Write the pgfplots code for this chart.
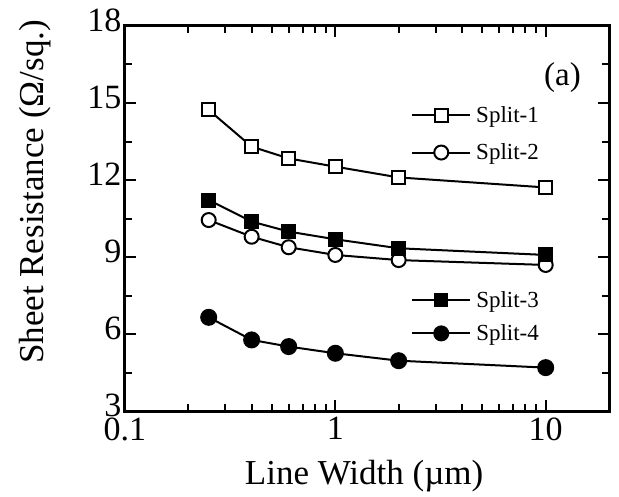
\documentclass[border=0pt]{standalone}
\usepackage{pgfplots}
\pgfplotsset{compat=1.18}
\usepackage{fontspec}
\setmainfont{Liberation Serif}
\pgfplotsset{
  legend image code/.code={\draw[mark repeat=2,mark phase=2,#1] plot coordinates {(0pt,0pt)(29pt,0pt)(58pt,0pt)};},
}
\begin{document}
\begin{tikzpicture}
\begin{axis}[
  scale only axis, width=484pt, height=385pt,
  xmode=log, xmin=0.1, xmax=20, ymin=3, ymax=18,
  legend style={draw=none, fill=none, font=\fontsize{23}{27}\selectfont, legend cell align=left,
      inner sep=0pt, row sep=10pt, nodes={inner sep=5pt}},
  axis line style={line width=3pt},
  every tick/.style={black, line width=2pt},
  tick align=inside,
  major tick length=11pt, minor tick length=7pt,
  xtick={0.1,1,10}, xticklabels={0.1,1,10},
  extra x ticks={0.2,0.3,0.4,0.5,0.6,0.7,0.8,0.9,2,3,4,5,6,7,8,9},
  extra x tick labels={},
  extra x tick style={tick style={black, line width=2pt}, major tick length=7pt, xticklabels={}},
  ytick={3,6,9,12,15,18}, minor y tick num=1,
  /pgf/number format/assume math mode=true,
  tick label style={font=\fontsize{34}{40}\selectfont},
  xticklabel style={yshift=-3pt},
  yticklabel style={yshift=6pt},
  xlabel={Line Width (\textmu m)}, ylabel={Sheet Resistance (Ω/sq.)},
  label style={font=\fontsize{35}{42}\selectfont},
  xlabel style={at={(axis description cs:0.494,-0.17)}, anchor=center},
  ylabel style={at={(axis description cs:-0.186,0.569)}, anchor=center},
  every axis plot/.append style={black, line width=2pt, mark options={solid, line width=2pt}},
  legend style={at={(axis description cs:0.591,0.72)}, anchor=west},
  clip=false,
]
\addplot[mark=square*, mark size=6.5pt, mark options={fill=white}] coordinates {(0.25,14.73)(0.4,13.30)(0.6,12.84)(1,12.52)(2,12.10)(10,11.71)};
\addlegendentry{Split-1}
\addplot[mark=*, mark size=7pt, mark options={fill=white}] coordinates {(0.25,10.44)(0.4,9.79)(0.6,9.38)(1,9.08)(2,8.88)(10,8.69)};
\addlegendentry{Split-2}
\addplot[forget plot, mark=square*, mark size=6.5pt, mark options={fill=black}] coordinates {(0.25,11.22)(0.4,10.38)(0.6,9.99)(1,9.69)(2,9.34)(10,9.08)};
\addplot[forget plot, mark=*, mark size=7.5pt, mark options={fill=black}] coordinates {(0.25,6.65)(0.4,5.77)(0.6,5.51)(1,5.25)(2,4.96)(10,4.69)};
\node[font=\fontsize{33}{40}\selectfont, anchor=center] at (axis description cs:0.904,0.866) {(a)};
\coordinate (sw) at (rel axis cs:0,0);
\coordinate (ne) at (rel axis cs:1,1);
\end{axis}
\begin{axis}[
  scale only axis, width=484pt, height=385pt,
  xmode=log, xmin=0.1, xmax=20, ymin=3, ymax=18,
  hide axis,
  legend style={draw=none, fill=none, font=\fontsize{23}{27}\selectfont, legend cell align=left,
      inner sep=0pt, row sep=6pt, nodes={inner sep=5pt}},
  legend style={at={(axis description cs:0.591,0.245)}, anchor=west},
]
\addlegendimage{black, line width=2pt, mark=square*, mark size=6pt, mark options={solid, fill=black}}
\addlegendentry{Split-3}
\addlegendimage{black, line width=2pt, mark=*, mark size=7pt, mark options={solid, fill=black}}
\addlegendentry{Split-4}
\end{axis}
\pgfresetboundingbox
\path[use as bounding box] ([shift={(-125pt,-85pt)}]sw) rectangle ([shift={(10pt,26pt)}]ne);
\end{tikzpicture}
\end{document}
